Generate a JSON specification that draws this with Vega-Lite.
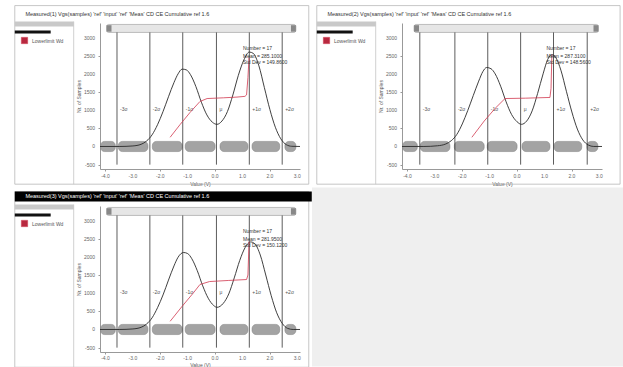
{
 "$schema": "https://vega.github.io/schema/vega-lite/v6.json",
 "background": "white",
 "padding": {"left": 14, "top": 5, "right": 0, "bottom": 0},
 "bounds": "flush",
 "columns": 2,
 "spacing": {"row": 37, "column": 102},
 "resolve": {"scale": {"color": "independent"}, "legend": {"color": "independent"}},
 "datasets": {
  "xt": [{"u":-4,"lab":"-4.0"},{"u":-3,"lab":"-3.0"},{"u":-2,"lab":"-2.0"},{"u":-1,"lab":"-1.0"},{"u":0,"lab":"0.0"},{"u":1,"lab":"1.0"},{"u":2,"lab":"2.0"},{"u":3,"lab":"3.0"}],
  "yt": [{"v":-500,"lab":"-500"},{"v":0,"lab":"0"},{"v":500,"lab":"500"},{"v":1000,"lab":"1000"},{"v":1500,"lab":"1500"},{"v":2000,"lab":"2000"},{"v":2500,"lab":"2500"},{"v":3000,"lab":"3000"}],
  "caps": [{"u":-4.18,"u2":-3.64},{"u":-3.53,"u2":-2.45},{"u":-2.29,"u2":-1.2},{"u":-1.09,"u2":0.0},{"u":0.18,"u2":1.2},{"u":1.35,"u2":2.36},{"u":2.55,"u2":2.95}],
  "sig1": [{"u":-3.58,"lab":"-3σ"},{"u":-2.38,"lab":"-2σ"},{"u":-1.18,"lab":"-1σ"},{"u":0.05,"lab":"μ"},{"u":1.25,"lab":"+1σ"},{"u":2.45,"lab":"+2σ"}],
  "sig2": [{"u":-3.55,"lab":"-3σ"},{"u":-2.27,"lab":"-2σ"},{"u":-1.07,"lab":"-1σ"},{"u":0.13,"lab":"μ"},{"u":1.33,"lab":"+1σ"},{"u":2.56,"lab":"+2σ"}],
  "curve1": [{"u":-4.2,"v":0},{"u":-3.5,"v":0},{"u":-3.0,"v":15},{"u":-2.7,"v":60},{"u":-2.5,"v":150},{"u":-2.3,"v":320},{"u":-2.1,"v":600},{"u":-1.9,"v":960},{"u":-1.7,"v":1370},{"u":-1.5,"v":1760},{"u":-1.35,"v":2000},{"u":-1.2,"v":2130},{"u":-1.05,"v":2110},{"u":-0.9,"v":1980},{"u":-0.7,"v":1650},{"u":-0.5,"v":1220},{"u":-0.3,"v":870},{"u":-0.1,"v":670},{"u":0.07,"v":610},{"u":0.25,"v":700},{"u":0.45,"v":960},{"u":0.65,"v":1420},{"u":0.85,"v":1960},{"u":1.05,"v":2380},{"u":1.25,"v":2600},{"u":1.4,"v":2560},{"u":1.6,"v":2220},{"u":1.8,"v":1620},{"u":2.0,"v":1020},{"u":2.2,"v":530},{"u":2.4,"v":210},{"u":2.6,"v":50},{"u":2.8,"v":5},{"u":3.1,"v":0}],
  "curve2": [{"u":-4.2,"v":0},{"u":-3.4,"v":0},{"u":-2.9,"v":20},{"u":-2.6,"v":70},{"u":-2.4,"v":160},{"u":-2.2,"v":330},{"u":-2.0,"v":620},{"u":-1.8,"v":990},{"u":-1.6,"v":1400},{"u":-1.4,"v":1800},{"u":-1.25,"v":2060},{"u":-1.11,"v":2175},{"u":-0.95,"v":2140},{"u":-0.8,"v":2000},{"u":-0.6,"v":1660},{"u":-0.4,"v":1230},{"u":-0.2,"v":880},{"u":0.0,"v":680},{"u":0.16,"v":610},{"u":0.35,"v":700},{"u":0.55,"v":980},{"u":0.75,"v":1460},{"u":0.95,"v":2000},{"u":1.12,"v":2400},{"u":1.27,"v":2530},{"u":1.42,"v":2440},{"u":1.6,"v":2100},{"u":1.8,"v":1520},{"u":2.0,"v":950},{"u":2.2,"v":480},{"u":2.4,"v":180},{"u":2.6,"v":40},{"u":2.8,"v":0},{"u":3.1,"v":0}],
  "curve3": [{"u":-4.2,"v":0},{"u":-3.5,"v":0},{"u":-3.0,"v":15},{"u":-2.7,"v":60},{"u":-2.5,"v":150},{"u":-2.3,"v":320},{"u":-2.1,"v":600},{"u":-1.9,"v":950},{"u":-1.7,"v":1360},{"u":-1.5,"v":1750},{"u":-1.35,"v":1990},{"u":-1.15,"v":2120},{"u":-1.0,"v":2090},{"u":-0.85,"v":1950},{"u":-0.65,"v":1620},{"u":-0.45,"v":1200},{"u":-0.25,"v":860},{"u":-0.05,"v":660},{"u":0.07,"v":610},{"u":0.3,"v":720},{"u":0.5,"v":980},{"u":0.7,"v":1420},{"u":0.9,"v":1900},{"u":1.1,"v":2260},{"u":1.3,"v":2410},{"u":1.45,"v":2360},{"u":1.65,"v":2050},{"u":1.85,"v":1500},{"u":2.05,"v":930},{"u":2.25,"v":460},{"u":2.45,"v":170},{"u":2.65,"v":30},{"u":2.85,"v":0},{"u":3.1,"v":0}],
  "red1": [{"u":-1.64,"v":253},{"u":-1.27,"v":610},{"u":-0.91,"v":940},{"u":-0.55,"v":1240},{"u":-0.29,"v":1320},{"u":0.3,"v":1340},{"u":0.8,"v":1360},{"u":1.09,"v":1380},{"u":1.15,"v":1420},{"u":1.2,"v":1900},{"u":1.24,"v":2450}],
  "red2": [{"u":-1.65,"v":253},{"u":-1.2,"v":700},{"u":-0.8,"v":1050},{"u":-0.44,"v":1320},{"u":0.3,"v":1330},{"u":1.2,"v":1350},{"u":1.24,"v":1600},{"u":1.27,"v":2530}],
  "red3": [{"u":-1.64,"v":225},{"u":-1.2,"v":640},{"u":-0.8,"v":1000},{"u":-0.55,"v":1240},{"u":-0.2,"v":1320},{"u":0.5,"v":1350},{"u":1.15,"v":1375},{"u":1.2,"v":1500},{"u":1.24,"v":2420}],
  "ann1": [{"u":1.02,"v":2700,"t":"Number = 17"},{"u":1.02,"v":2505,"t":"Mean = 285.1000"},{"u":1.02,"v":2313,"t":"Std Dev = 149.8600"}],
  "ann2": [{"u":1.07,"v":2700,"t":"Number = 17"},{"u":1.07,"v":2505,"t":"Mean = 287.3100"},{"u":1.07,"v":2313,"t":"Std Dev = 148.5600"}],
  "ann3": [{"u":1.02,"v":2700,"t":"Number = 17"},{"u":1.02,"v":2505,"t":"Mean = 281.9500"},{"u":1.02,"v":2313,"t":"Std Dev = 150.1200"}]
 },
 "concat": [
  {
   "width": 200, "height": 146,
   "title": {"text": "Measured(1) Vgs(samples) 'ref' 'input' 'ref' 'Meas' CD CE Cumulative ref 1.6", "anchor": "start", "frame": "bounds", "fontSize": 5.5, "fontWeight": "normal", "color": "#333", "offset": -12, "dx": 11},
   "layer": [
    {"data": {"values": [{}]}, "mark": {"type": "rect", "fillOpacity": 0, "stroke": "#b8b8b8", "strokeWidth": 0.8}, "encoding": {"x": {"datum": -7.31}, "x2": {"datum": 3.42}, "y": {"datum": -1038}, "y2": {"datum": 3879}}},
    {"data": {"values": [{}]}, "mark": {"type": "rect", "color": "#c9c9c9"}, "encoding": {"x": {"datum": -7.31}, "x2": {"datum": -5.16}, "y": {"datum": 3302}, "y2": {"datum": 3440}}},
    {"data": {"values": [{}]}, "mark": {"type": "rect", "color": "#111"}, "encoding": {"x": {"datum": -7.31}, "x2": {"datum": -6.0}, "y": {"datum": 3110}, "y2": {"datum": 3192}}},
    {"data": {"values": [{}]}, "mark": {"type": "rule", "color": "#c4c4c4", "strokeWidth": 0.8}, "encoding": {"x": {"datum": -5.16}, "y": {"datum": -1038}, "y2": {"datum": 3440}}},
    {"data": {"values": [{}]}, "mark": {"type": "rect", "fill": "#e6e6e6", "stroke": "#9a9a9a", "strokeWidth": 0.6, "cornerRadius": 2}, "encoding": {"x": {"datum": -3.96}, "x2": {"datum": 2.95}, "y": {"datum": 3140}, "y2": {"datum": 3360}}},
    {"data": {"values": [{}]}, "mark": {"type": "rect", "color": "#888"}, "encoding": {"x": {"datum": -3.96}, "x2": {"datum": -3.78}, "y": {"datum": 3160}, "y2": {"datum": 3340}}},
    {"data": {"values": [{}]}, "mark": {"type": "rect", "color": "#888"}, "encoding": {"x": {"datum": 2.77}, "x2": {"datum": 2.95}, "y": {"datum": 3160}, "y2": {"datum": 3340}}},
    {"data": {"name": "caps"}, "mark": {"type": "rect", "fill": "#a3a3a3", "stroke": "#7a7a7a", "strokeWidth": 0.5, "cornerRadius": 4}, "encoding": {"x": {"field": "u", "type": "quantitative"}, "x2": {"field": "u2"}, "y": {"datum": -140}, "y2": {"datum": 140}}},
    {"data": {"name": "sig1"}, "mark": {"type": "rule", "color": "#333", "strokeWidth": 0.8}, "encoding": {"x": {"field": "u", "type": "quantitative"}, "y": {"datum": -500}, "y2": {"datum": 3140}}},
    {"data": {"name": "sig1"}, "mark": {"type": "text", "align": "left", "dx": 3, "fontSize": 5, "color": "#555"}, "encoding": {"x": {"field": "u", "type": "quantitative"}, "y": {"datum": 1020}, "text": {"field": "lab"}}},
    {"data": {"name": "xt"}, "mark": {"type": "text", "baseline": "top", "dy": 5, "fontSize": 5, "color": "#666"}, "encoding": {"x": {"field": "u", "type": "quantitative"}, "y": {"datum": -620}, "text": {"field": "lab"}}},
    {"data": {"name": "yt"}, "mark": {"type": "text", "align": "right", "baseline": "middle", "dx": -5, "fontSize": 5, "color": "#666"}, "encoding": {"x": {"datum": -4.2}, "y": {"field": "v", "type": "quantitative"}, "text": {"field": "lab"}}},
    {"data": {"name": "curve1"}, "mark": {"type": "line", "color": "#2a2a2a", "strokeWidth": 0.9, "interpolate": "monotone"},
     "encoding": {
      "x": {"field": "u", "type": "quantitative", "scale": {"domain": [-4.2, 3.1], "nice": false, "zero": false}, "axis": {"title": "Value (V)", "values": [-4,-3.75,-3.5,-3.25,-3,-2.75,-2.5,-2.25,-2,-1.75,-1.5,-1.25,-1,-0.75,-0.5,-0.25,0,0.25,0.5,0.75,1,1.25,1.5,1.75,2,2.25,2.5,2.75,3], "labels": false, "tickSize": 2, "titlePadding": 10}},
      "y": {"field": "v", "type": "quantitative", "scale": {"domain": [-620, 3400], "nice": false, "zero": false}, "axis": {"title": "Nr. of Samples", "values": [-500,-250,0,250,500,750,1000,1250,1500,1750,2000,2250,2500,2750,3000], "labels": false, "tickSize": 2, "titlePadding": 16}}
     }},
    {"data": {"name": "red1"}, "mark": {"type": "line", "strokeWidth": 0.8}, "encoding": {"x": {"field": "u", "type": "quantitative"}, "y": {"field": "v", "type": "quantitative"}, "color": {"datum": "Lowerlimit Wd", "scale": {"range": ["#d0384f"]}, "legend": {"orient": "none", "legendX": -79, "legendY": 14, "title": null, "labelFontSize": 5, "labelColor": "#555", "symbolType": "square", "symbolSize": 40, "encode": {"symbols": {"update": {"fill": {"value": "#b8283f"}, "stroke": {"value": "#8a1a2c"}, "strokeWidth": {"value": 0.5}}}}}}}},
    {"data": {"name": "ann1"}, "mark": {"type": "text", "align": "left", "fontSize": 5, "color": "#333"}, "encoding": {"x": {"field": "u", "type": "quantitative"}, "y": {"field": "v", "type": "quantitative"}, "text": {"field": "t"}}}
   ]
  },
  {
   "width": 200, "height": 146,
   "title": {"text": "Measured(2) Vgs(samples) 'ref' 'input' 'ref' 'Meas' CD CE Cumulative ref 1.6", "anchor": "start", "frame": "bounds", "fontSize": 5.5, "fontWeight": "normal", "color": "#333", "offset": -12, "dx": 11},
   "layer": [
    {"data": {"values": [{}]}, "mark": {"type": "rect", "fillOpacity": 0, "stroke": "#b8b8b8", "strokeWidth": 0.8}, "encoding": {"x": {"datum": -7.31}, "x2": {"datum": 3.76}, "y": {"datum": -1038}, "y2": {"datum": 3879}}},
    {"data": {"values": [{}]}, "mark": {"type": "rect", "color": "#c9c9c9"}, "encoding": {"x": {"datum": -7.31}, "x2": {"datum": -5.16}, "y": {"datum": 3302}, "y2": {"datum": 3440}}},
    {"data": {"values": [{}]}, "mark": {"type": "rect", "color": "#111"}, "encoding": {"x": {"datum": -7.31}, "x2": {"datum": -6.0}, "y": {"datum": 3110}, "y2": {"datum": 3192}}},
    {"data": {"values": [{}]}, "mark": {"type": "rule", "color": "#c4c4c4", "strokeWidth": 0.8}, "encoding": {"x": {"datum": -5.16}, "y": {"datum": -1038}, "y2": {"datum": 3440}}},
    {"data": {"values": [{}]}, "mark": {"type": "rect", "fill": "#e6e6e6", "stroke": "#9a9a9a", "strokeWidth": 0.6, "cornerRadius": 2}, "encoding": {"x": {"datum": -3.76}, "x2": {"datum": 2.97}, "y": {"datum": 3140}, "y2": {"datum": 3360}}},
    {"data": {"values": [{}]}, "mark": {"type": "rect", "color": "#888"}, "encoding": {"x": {"datum": -3.76}, "x2": {"datum": -3.58}, "y": {"datum": 3160}, "y2": {"datum": 3340}}},
    {"data": {"values": [{}]}, "mark": {"type": "rect", "color": "#888"}, "encoding": {"x": {"datum": 2.79}, "x2": {"datum": 2.97}, "y": {"datum": 3160}, "y2": {"datum": 3340}}},
    {"data": {"name": "caps"}, "mark": {"type": "rect", "fill": "#a3a3a3", "stroke": "#7a7a7a", "strokeWidth": 0.5, "cornerRadius": 4}, "encoding": {"x": {"field": "u", "type": "quantitative"}, "x2": {"field": "u2"}, "y": {"datum": -140}, "y2": {"datum": 140}}},
    {"data": {"name": "sig2"}, "mark": {"type": "rule", "color": "#333", "strokeWidth": 0.8}, "encoding": {"x": {"field": "u", "type": "quantitative"}, "y": {"datum": -500}, "y2": {"datum": 3140}}},
    {"data": {"name": "sig2"}, "mark": {"type": "text", "align": "left", "dx": 3, "fontSize": 5, "color": "#555"}, "encoding": {"x": {"field": "u", "type": "quantitative"}, "y": {"datum": 1020}, "text": {"field": "lab"}}},
    {"data": {"name": "xt"}, "mark": {"type": "text", "baseline": "top", "dy": 5, "fontSize": 5, "color": "#666"}, "encoding": {"x": {"field": "u", "type": "quantitative"}, "y": {"datum": -620}, "text": {"field": "lab"}}},
    {"data": {"name": "yt"}, "mark": {"type": "text", "align": "right", "baseline": "middle", "dx": -5, "fontSize": 5, "color": "#666"}, "encoding": {"x": {"datum": -4.2}, "y": {"field": "v", "type": "quantitative"}, "text": {"field": "lab"}}},
    {"data": {"name": "curve2"}, "mark": {"type": "line", "color": "#2a2a2a", "strokeWidth": 0.9, "interpolate": "monotone"},
     "encoding": {
      "x": {"field": "u", "type": "quantitative", "scale": {"domain": [-4.2, 3.1], "nice": false, "zero": false}, "axis": {"title": "Value (V)", "values": [-4,-3.75,-3.5,-3.25,-3,-2.75,-2.5,-2.25,-2,-1.75,-1.5,-1.25,-1,-0.75,-0.5,-0.25,0,0.25,0.5,0.75,1,1.25,1.5,1.75,2,2.25,2.5,2.75,3], "labels": false, "tickSize": 2, "titlePadding": 10}},
      "y": {"field": "v", "type": "quantitative", "scale": {"domain": [-620, 3400], "nice": false, "zero": false}, "axis": {"title": "Nr. of Samples", "values": [-500,-250,0,250,500,750,1000,1250,1500,1750,2000,2250,2500,2750,3000], "labels": false, "tickSize": 2, "titlePadding": 16}}
     }},
    {"data": {"name": "red2"}, "mark": {"type": "line", "strokeWidth": 0.8}, "encoding": {"x": {"field": "u", "type": "quantitative"}, "y": {"field": "v", "type": "quantitative"}, "color": {"datum": "Lowerlimit Wd", "scale": {"range": ["#d0384f"]}, "legend": {"orient": "none", "legendX": -79, "legendY": 14, "title": null, "labelFontSize": 5, "labelColor": "#555", "symbolType": "square", "symbolSize": 40, "encode": {"symbols": {"update": {"fill": {"value": "#b8283f"}, "stroke": {"value": "#8a1a2c"}, "strokeWidth": {"value": 0.5}}}}}}}},
    {"data": {"name": "ann2"}, "mark": {"type": "text", "align": "left", "fontSize": 5, "color": "#333"}, "encoding": {"x": {"field": "u", "type": "quantitative"}, "y": {"field": "v", "type": "quantitative"}, "text": {"field": "t"}}}
   ]
  },
  {
   "width": 200, "height": 146,
   "title": {"text": "Measured(3) Vgs(samples) 'ref' 'input' 'ref' 'Meas' CD CE Cumulative ref 1.6", "anchor": "start", "frame": "bounds", "fontSize": 5.5, "fontWeight": "normal", "color": "#ffffff", "offset": -8, "dx": 11},
   "layer": [
    {"data": {"values": [{}]}, "mark": {"type": "rect", "fillOpacity": 0, "stroke": "#b8b8b8", "strokeWidth": 0.8}, "encoding": {"x": {"datum": -7.31}, "x2": {"datum": 3.42}, "y": {"datum": -1040}, "y2": {"datum": 3797}}},
    {"data": {"values": [{}]}, "mark": {"type": "rect", "color": "#000"}, "encoding": {"x": {"datum": -7.31}, "x2": {"datum": 3.53}, "y": {"datum": 3522}, "y2": {"datum": 3797}}},
    {"data": {"values": [{}]}, "mark": {"type": "rect", "color": "#c9c9c9"}, "encoding": {"x": {"datum": -7.31}, "x2": {"datum": -5.16}, "y": {"datum": 3302}, "y2": {"datum": 3440}}},
    {"data": {"values": [{}]}, "mark": {"type": "rect", "color": "#111"}, "encoding": {"x": {"datum": -7.31}, "x2": {"datum": -6.0}, "y": {"datum": 3110}, "y2": {"datum": 3192}}},
    {"data": {"values": [{}]}, "mark": {"type": "rule", "color": "#c4c4c4", "strokeWidth": 0.8}, "encoding": {"x": {"datum": -5.16}, "y": {"datum": -1040}, "y2": {"datum": 3440}}},
    {"data": {"values": [{}]}, "mark": {"type": "rect", "fill": "#e6e6e6", "stroke": "#9a9a9a", "strokeWidth": 0.6, "cornerRadius": 2}, "encoding": {"x": {"datum": -3.96}, "x2": {"datum": 2.95}, "y": {"datum": 3140}, "y2": {"datum": 3360}}},
    {"data": {"values": [{}]}, "mark": {"type": "rect", "color": "#888"}, "encoding": {"x": {"datum": -3.96}, "x2": {"datum": -3.78}, "y": {"datum": 3160}, "y2": {"datum": 3340}}},
    {"data": {"values": [{}]}, "mark": {"type": "rect", "color": "#888"}, "encoding": {"x": {"datum": 2.77}, "x2": {"datum": 2.95}, "y": {"datum": 3160}, "y2": {"datum": 3340}}},
    {"data": {"name": "caps"}, "mark": {"type": "rect", "fill": "#a3a3a3", "stroke": "#7a7a7a", "strokeWidth": 0.5, "cornerRadius": 4}, "encoding": {"x": {"field": "u", "type": "quantitative"}, "x2": {"field": "u2"}, "y": {"datum": -140}, "y2": {"datum": 140}}},
    {"data": {"name": "sig1"}, "mark": {"type": "rule", "color": "#333", "strokeWidth": 0.8}, "encoding": {"x": {"field": "u", "type": "quantitative"}, "y": {"datum": -500}, "y2": {"datum": 3140}}},
    {"data": {"name": "sig1"}, "mark": {"type": "text", "align": "left", "dx": 3, "fontSize": 5, "color": "#555"}, "encoding": {"x": {"field": "u", "type": "quantitative"}, "y": {"datum": 1020}, "text": {"field": "lab"}}},
    {"data": {"name": "xt"}, "mark": {"type": "text", "baseline": "top", "dy": 3.5, "fontSize": 5, "color": "#666"}, "encoding": {"x": {"field": "u", "type": "quantitative"}, "y": {"datum": -620}, "text": {"field": "lab"}}},
    {"data": {"name": "yt"}, "mark": {"type": "text", "align": "right", "baseline": "middle", "dx": -5, "fontSize": 5, "color": "#666"}, "encoding": {"x": {"datum": -4.2}, "y": {"field": "v", "type": "quantitative"}, "text": {"field": "lab"}}},
    {"data": {"name": "curve3"}, "mark": {"type": "line", "color": "#2a2a2a", "strokeWidth": 0.9, "interpolate": "monotone"},
     "encoding": {
      "x": {"field": "u", "type": "quantitative", "scale": {"domain": [-4.2, 3.1], "nice": false, "zero": false}, "axis": {"title": "Value (V)", "values": [-4,-3.75,-3.5,-3.25,-3,-2.75,-2.5,-2.25,-2,-1.75,-1.5,-1.25,-1,-0.75,-0.5,-0.25,0,0.25,0.5,0.75,1,1.25,1.5,1.75,2,2.25,2.5,2.75,3], "labels": false, "tickSize": 2, "titlePadding": 7.5}},
      "y": {"field": "v", "type": "quantitative", "scale": {"domain": [-620, 3400], "nice": false, "zero": false}, "axis": {"title": "Nr. of Samples", "values": [-500,-250,0,250,500,750,1000,1250,1500,1750,2000,2250,2500,2750,3000], "labels": false, "tickSize": 2, "titlePadding": 16}}
     }},
    {"data": {"name": "red3"}, "mark": {"type": "line", "strokeWidth": 0.8}, "encoding": {"x": {"field": "u", "type": "quantitative"}, "y": {"field": "v", "type": "quantitative"}, "color": {"datum": "Lowerlimit Wd", "scale": {"range": ["#d0384f"]}, "legend": {"orient": "none", "legendX": -79, "legendY": 14, "title": null, "labelFontSize": 5, "labelColor": "#555", "symbolType": "square", "symbolSize": 40, "encode": {"symbols": {"update": {"fill": {"value": "#b8283f"}, "stroke": {"value": "#8a1a2c"}, "strokeWidth": {"value": 0.5}}}}}}}},
    {"data": {"name": "ann3"}, "mark": {"type": "text", "align": "left", "fontSize": 5, "color": "#333"}, "encoding": {"x": {"field": "u", "type": "quantitative"}, "y": {"field": "v", "type": "quantitative"}, "text": {"field": "t"}}}
   ]
  },
  {
   "width": 200, "height": 146,
   "data": {"values": [{}]},
   "mark": {"type": "rect", "color": "#efefef"},
   "encoding": {
    "x": {"datum": -0.45, "type": "quantitative", "scale": {"domain": [0, 1], "nice": false, "zero": false}, "axis": null},
    "x2": {"datum": 1.105},
    "y": {"datum": -0.1, "type": "quantitative", "scale": {"domain": [0, 1], "nice": false, "zero": false}, "axis": null},
    "y2": {"datum": 1.126}
   }
  }
 ],
 "config": {
  "font": "Liberation Sans",
  "view": {"stroke": null},
  "axis": {"labelFontSize": 5, "titleFontSize": 5, "labelColor": "#666", "titleColor": "#555", "titleFontWeight": "normal", "domainColor": "#999", "tickColor": "#999", "grid": false}
 }
}
